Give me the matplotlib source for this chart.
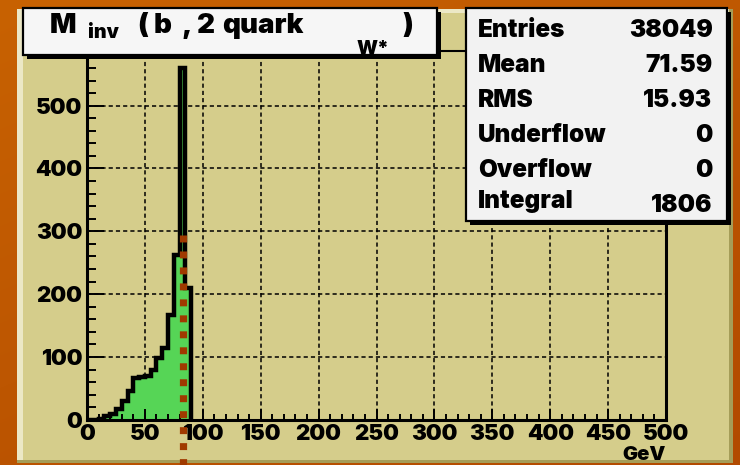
import numpy as np
import matplotlib
matplotlib.use("Agg")
import matplotlib.pyplot as plt
from matplotlib.patches import Rectangle
from matplotlib.ticker import MultipleLocator

# ---- histogram contents (5 GeV bins starting at 0 GeV) ----
bin_width = 5.0
counts = [0, 0, 2, 6, 10, 17, 30, 46, 66, 68, 70, 80, 98, 114, 167, 262, 560, 210]
x_range = (0, 500)
y_max = 587

# vertical marker drawn across the peak region
marker_x = 83.0
marker_top = 294.0
marker_bottom = -80.0

x_ticks = [0, 50, 100, 150, 200, 250, 300, 350, 400, 450, 500]
y_ticks = [0, 100, 200, 300, 400, 500]
x_unit = "GeV"

stats_labels = ["Entries", "Mean", "RMS", "Underflow", "Overflow", "Integral"]
stats_values = ["38049", "71.59", "15.93", "0", "0", "1806"]

FONT = ["Inter", "DejaVu Sans"]
HEAVY = 900
plt.rcParams["font.family"] = FONT
plt.rcParams["font.weight"] = HEAVY
plt.rcParams["lines.scale_dashes"] = False

W, H = 740, 465
fig = plt.figure(figsize=(W / 100, H / 100), dpi=100)

# ---- background layer in pixel coordinates ----
bg = fig.add_axes([0, 0, 1, 1], zorder=-10)
bg.set_xlim(0, W)
bg.set_ylim(H, 0)
bg.axis("off")
yy, xx = np.mgrid[0:H, 0:W]
t = (yy / H) * 0.6 + (xx / W) * 0.4
c0 = np.array([200, 98, 2]) / 255.0
c1 = np.array([178, 74, 0]) / 255.0
grad = c0[None, None, :] * (1 - t[..., None]) + c1[None, None, :] * t[..., None]
bg.imshow(grad, extent=[0, W, H, 0], aspect="auto", interpolation="bilinear")

pad_l, pad_r, pad_t, pad_b = 16.5, 732.5, 9.0, 463.0
khaki = "#d5cd8b"
bg.add_patch(Rectangle((pad_l, pad_t), pad_r - pad_l, pad_b - pad_t,
                       facecolor=khaki, edgecolor="none"))
# bevelled frame of the pad
bg.add_patch(Rectangle((pad_l, pad_t), 6, pad_b - pad_t, facecolor="#ece8c6", edgecolor="none"))
bg.add_patch(Rectangle((pad_l, pad_t), pad_r - pad_l, 4, facecolor="#ece8c6", edgecolor="none"))
bg.add_patch(Rectangle((pad_r - 4, pad_t), 4, pad_b - pad_t, facecolor="#a59d58", edgecolor="none"))
bg.add_patch(Rectangle((pad_l, pad_b - 3.5), pad_r - pad_l, 3.5, facecolor="#a59d58", edgecolor="none"))

# ---- main histogram frame ----
x0_px, x1_px, y0_px, y1_px = 87.0, 666.0, 419.8, 51.0
ax = fig.add_axes([x0_px / W, 1 - y0_px / H, (x1_px - x0_px) / W, (y0_px - y1_px) / H], zorder=0)
ax.set_facecolor("none")
ax.set_xlim(*x_range)
ax.set_ylim(0, y_max)

edges = np.arange(len(counts) + 1) * bin_width
ax.stairs(counts, edges, baseline=0, fill=True, facecolor="#56d556", edgecolor="none", zorder=1.2)
ax.stairs(counts, edges, baseline=0, fill=False, edgecolor="black", linewidth=3.2, zorder=1.4)

grid_style = dict(color="black", linewidth=1.1, linestyle=(0, (3.0, 2.2)), zorder=0.6)
for xv in x_ticks[1:-1]:
    ax.axvline(xv, **grid_style)
for yv in y_ticks[1:]:
    ax.axhline(yv, **grid_style)

ax.plot([marker_x, marker_x], [marker_top, marker_bottom], color="#a03a00",
        linewidth=5.2, linestyle=(0, (5.0, 6.5)), solid_capstyle="butt",
        dash_capstyle="butt", clip_on=False, zorder=6)

for side in ("left", "bottom", "right"):
    ax.spines[side].set_linewidth(2.2)
    ax.spines[side].set_color("black")
ax.spines["top"].set_linewidth(1.5)

ax.set_xticks(x_ticks)
ax.set_yticks(y_ticks)
ax.xaxis.set_minor_locator(MultipleLocator(10))
ax.yaxis.set_minor_locator(MultipleLocator(20))
ax.tick_params(axis="both", which="both", direction="in", width=1.4, color="black",
               labelsize=16, top=False, right=False)
ax.tick_params(axis="x", which="major", length=8, pad=3.2)
ax.tick_params(axis="x", which="minor", length=4)
ax.tick_params(axis="y", which="major", length=12, pad=3.5)
ax.tick_params(axis="y", which="minor", length=6.5)
for lab in ax.get_xticklabels() + ax.get_yticklabels():
    lab.set_fontweight(HEAVY)

# ---- overlay: title box, statistics box, axis unit ----
ov = fig.add_axes([0, 0, 1, 1], zorder=10)
ov.set_xlim(0, W)
ov.set_ylim(H, 0)
ov.axis("off")
ov.set_facecolor("none")


def boxed(x0, y0, x1, y1, fill):
    ov.add_patch(Rectangle((x0 + 4, y0 + 4), x1 - x0, y1 - y0, facecolor="black", edgecolor="none"))
    ov.add_patch(Rectangle((x0, y0), x1 - x0, y1 - y0, facecolor=fill,
                           edgecolor="black", linewidth=1.6))


boxed(23, 8, 437, 55, "#f6f6f6")
tkw = dict(color="black", fontweight=HEAVY, va="baseline", ha="left")
big, small = 20, 14
ov.text(50, 33, "M", fontsize=big, **tkw)
ov.text(88, 38, "inv", fontsize=small, **tkw)
ov.text(137, 33, "(", fontsize=big, **tkw)
ov.text(154, 33, "b", fontsize=big, **tkw)
ov.text(181, 33, ",", fontsize=big, **tkw)
ov.text(197, 33, "2", fontsize=big, **tkw)
ov.text(222, 33, "quark", fontsize=big, **tkw)
ov.text(357, 53.5, "W*", fontsize=small, **tkw)
ov.text(402, 33, ")", fontsize=big, **tkw)

boxed(466, 8, 727, 221, "#f2f2f2")
label_base = [36.7, 71.7, 106.7, 141.7, 176.7, 208.3]
value_base = [36.7, 71.7, 106.7, 141.7, 176.7, 211.7]
for lab, val, yl, yv in zip(stats_labels, stats_values, label_base, value_base):
    ov.text(478, yl, lab, fontsize=17.5, fontweight=HEAVY, ha="left", va="baseline")
    ov.text(712.5, yv, val, fontsize=17.5, fontweight=HEAVY, ha="right", va="baseline")

ov.text(666, 460, x_unit, fontsize=14.5, fontweight=HEAVY, ha="right", va="baseline")

fig.savefig("out.png", dpi=100)
